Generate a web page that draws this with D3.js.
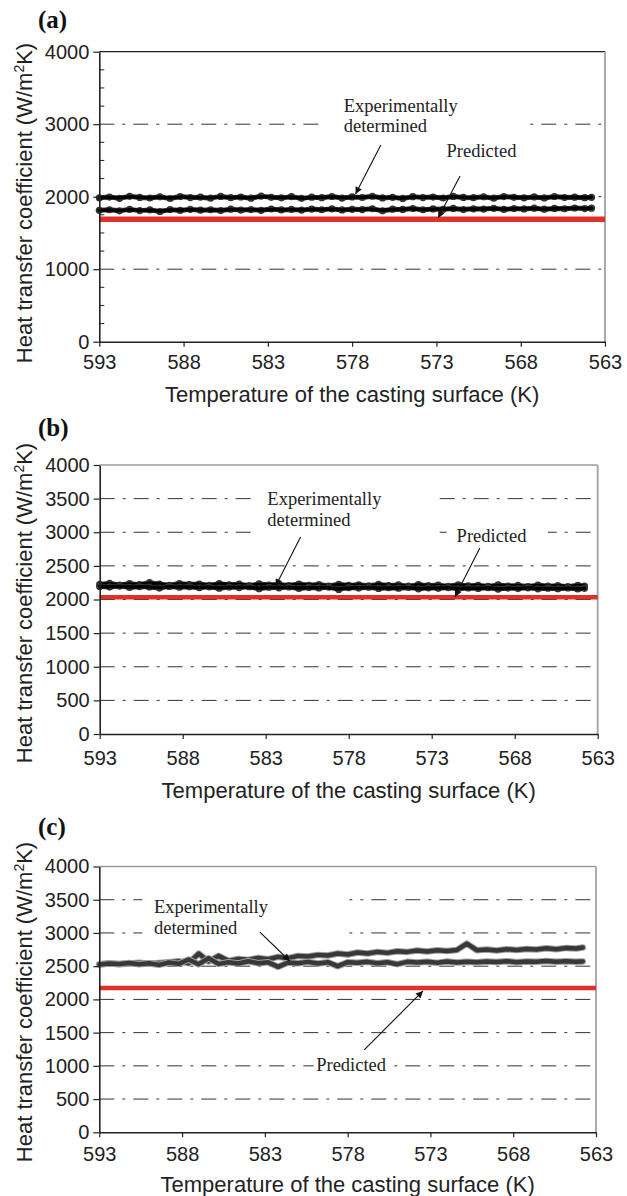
<!DOCTYPE html>
<html>
<head>
<meta charset="utf-8">
<script src="https://cdn.jsdelivr.net/npm/d3@7"></script>
<style>
  html, body { margin: 0; padding: 0; background: #fff; }
  svg { display: block; }
</style>
</head>
<body>
<script>
// ---------------- DATA ----------------
const temps = [593.0, 592.4, 591.8, 591.2, 590.6, 590.0, 589.4, 588.8, 588.2, 587.6,
               587.0, 586.4, 585.8, 585.2, 584.6, 584.0, 583.4, 582.8, 582.2, 581.6,
               581.0, 580.4, 579.8, 579.2, 578.6, 578.0, 577.4, 576.8, 576.2, 575.6,
               575.0, 574.4, 573.8, 573.2, 572.6, 572.0, 571.4, 570.8, 570.2, 569.6,
               569.0, 568.4, 567.8, 567.2, 566.6, 566.0, 565.4, 564.8, 564.2, 563.8];

// (a) experimentally determined
const aExpUpper = [1985, 1995, 1978, 2005, 1990, 1982, 1998, 1975, 2002, 1988,
                   1993, 1980, 2004, 1986, 1996, 1979, 2008, 1991, 1984, 2000,
                   1977, 1994, 1987, 2003, 1981, 1997, 1989, 2006, 1983, 1992,
                   1976, 2001, 1988, 1995, 1982, 2004, 1990, 1986, 1999, 1980,
                   2002, 1991, 1985, 1997, 1983, 2003, 1989, 1994, 1987, 1992];
const aExpLower = [1812, 1820, 1805, 1825, 1808, 1818, 1796, 1822, 1811, 1826,
                   1814, 1820, 1809, 1828, 1816, 1823, 1812, 1830, 1818, 1825,
                   1815, 1829, 1820, 1832, 1817, 1826, 1822, 1834, 1805, 1828,
                   1824, 1836, 1820, 1831, 1826, 1838, 1823, 1833, 1829, 1840,
                   1825, 1836, 1831, 1842, 1828, 1838, 1834, 1844, 1836, 1842];
// (b) experimentally determined
const bExpUpper = [2225, 2240, 2215, 2235, 2220, 2250, 2228, 2212, 2238, 2222,
                   2230, 2210, 2236, 2218, 2228, 2205, 2232, 2215, 2225, 2208,
                   2230, 2212, 2222, 2200, 2226, 2210, 2218, 2204, 2224, 2208,
                   2216, 2198, 2220, 2205, 2214, 2196, 2218, 2202, 2212, 2194,
                   2216, 2200, 2210, 2192, 2214, 2198, 2206, 2190, 2212, 2200];
const bExpLower = [2195, 2185, 2200, 2180, 2192, 2186, 2170, 2195, 2182, 2190,
                   2175, 2188, 2168, 2186, 2178, 2190, 2160, 2182, 2174, 2186,
                   2165, 2180, 2172, 2184, 2150, 2178, 2170, 2182, 2164, 2176,
                   2168, 2180, 2158, 2174, 2166, 2178, 2160, 2172, 2164, 2176,
                   2155, 2170, 2162, 2174, 2158, 2168, 2160, 2172, 2156, 2166];
// (c) experimentally determined
const cExpUpper = [2530, 2545, 2528, 2540, 2552, 2535, 2548, 2560, 2575, 2545,
                   2690, 2570, 2655, 2580, 2610, 2595, 2625, 2605, 2640, 2620,
                   2655, 2645, 2670, 2660, 2690, 2675, 2705, 2690, 2715, 2700,
                   2725, 2715, 2735, 2720, 2740, 2730, 2745, 2840, 2740, 2750,
                   2735, 2755, 2745, 2760, 2750, 2770, 2755, 2775, 2765, 2780];
const cExpLower = [2525, 2540, 2532, 2548, 2530, 2545, 2520, 2555, 2535, 2600,
                   2530, 2620, 2535, 2560, 2540, 2575, 2545, 2560, 2490, 2555,
                   2545, 2565, 2540, 2560, 2500, 2560, 2550, 2565, 2545, 2560,
                   2530, 2565, 2555, 2568, 2550, 2570, 2555, 2565, 2560, 2572,
                   2562, 2575, 2560, 2570, 2565, 2578, 2568, 2575, 2565, 2572];

// predicted (constant) heat transfer coefficient for (a), (b), (c)
const predicted = [1690, 2035, 2172];

const xDomain = [593, 563];
const xTicks = [593, 588, 583, 578, 573, 568, 563];
const yTicksA = [0, 1000, 2000, 3000, 4000];
const yMinorA = [250, 500, 750, 1250, 1500, 1750, 2250, 2500, 2750, 3250, 3500, 3750];
const yTicksBC = [0, 500, 1000, 1500, 2000, 2500, 3000, 3500, 4000];
const gridA = [1000, 2000, 3000];
const gridBC = [500, 1000, 1500, 2000, 2500, 3000, 3500];

const panelLetters = ["(a)", "(b)", "(c)"];
const xTitle = "Temperature of the casting surface (K)";
const expLabel = ["Experimentally", "determined"];
const predLabel = "Predicted";

// ---------------- LAYOUT ----------------
const panels = [
  { letter: panelLetters[0], left: 99.3, right: 605, top: 51.7, bottom: 341.7,
    yTicks: yTicksA, yMinor: yMinorA, grid: gridA, pred: predicted[0],
    series: [aExpUpper, aExpLower], style: "black",
    topColor: "#222", tickPad: 8, xTitleY: 401.7, yTitleC: 203, letterY: 28,
    expText: [578.5, 3168], lineGap: 20, predText: [572.4, 2548],
    expArrow: [[576.3, 2713], [577.8, 2037]], predArrow: [[571.6, 2286], [572.9, 1706]],
    boxes: [[579.6, 567.6, 3375, 2465]], redW: 5.5 },
  { letter: panelLetters[1], left: 99.7, right: 597.7, top: 465, bottom: 734,
    yTicks: yTicksBC, yMinor: [], grid: gridBC, pred: predicted[1],
    series: [bExpUpper, bExpLower], style: "black",
    topColor: "#9a9a9a", tickPad: 12, xTitleY: 798.3, yTitleC: 603, letterY: 436,
    expText: [582.9, 3405], lineGap: 21, predText: [571.5, 2859],
    expArrow: [[580.9, 2929], [582.4, 2201]], predArrow: [[570.1, 2766], [571.6, 2037]],
    boxes: [[583.6, 572.7, 3658, 2885], [572.1, 566.0, 3152, 2706]], redW: 4.5 },
  { letter: panelLetters[2], left: 99.3, right: 596, top: 866.5, bottom: 1132.3,
    yTicks: yTicksBC, yMinor: [], grid: gridBC, pred: predicted[2],
    series: [cExpUpper, cExpLower], style: "grey",
    topColor: "#9a9a9a", tickPad: 10, xTitleY: 1192, yTitleC: 1002, letterY: 835,
    expText: [589.7, 3305], lineGap: 21, predText: [579.9, 922],
    expArrow: [[583.3, 3014], [581.5, 2578]], predArrow: [[577.0, 1239], [573.45, 2127]],
    boxes: [[590.4, 577.9, 3676, 2864], [580.05, 575.3, 1133, 833]], redW: 4.5 }
];

const SANS = "'Liberation Sans', Arial, Helvetica, sans-serif";
const SERIF = "'Liberation Serif', 'Times New Roman', Times, serif";

const svg = d3.select("body").append("svg")
  .attr("width", 627).attr("height", 1196);

const defs = svg.append("defs");
defs.append("marker")
  .attr("id", "arrow")
  .attr("viewBox", "0 0 10 10")
  .attr("refX", 10).attr("refY", 5)
  .attr("markerUnits", "userSpaceOnUse")
  .attr("markerWidth", 10).attr("markerHeight", 7)
  .attr("orient", "auto")
  .append("path").attr("d", "M0,0 L10,5 L0,10 z").attr("fill", "#111");

panels.forEach(p => {
  const x = d3.scaleLinear().domain(xDomain).range([p.left, p.right]);
  const y = d3.scaleLinear().domain([0, 4000]).range([p.bottom, p.top]);
  const g = svg.append("g");

  // gridlines
  g.selectAll("line.grid").data(p.grid).join("line")
    .attr("class", "grid")
    .attr("x1", p.left).attr("x2", p.right)
    .attr("y1", d => y(d)).attr("y2", d => y(d))
    .attr("stroke", "#333").attr("stroke-width", 1)
    .attr("stroke-dasharray", "15,8,3,8");

  // top & right borders
  g.append("line").attr("x1", p.left).attr("x2", p.right)
    .attr("y1", y(4000)).attr("y2", y(4000))
    .attr("stroke", p.topColor).attr("stroke-width", 1.3);
  g.append("line").attr("x1", p.right).attr("x2", p.right)
    .attr("y1", y(4000)).attr("y2", y(0))
    .attr("stroke", "#aaa").attr("stroke-width", 2);

  // white label boxes (hide gridlines behind annotations)
  p.boxes.forEach(b => {
    g.append("rect")
      .attr("x", x(b[0])).attr("width", x(b[1]) - x(b[0]))
      .attr("y", y(b[2])).attr("height", y(b[3]) - y(b[2]))
      .attr("fill", "#fff");
  });

  // predicted line
  g.append("line")
    .attr("x1", x(xDomain[0])).attr("x2", x(xDomain[1]))
    .attr("y1", y(p.pred)).attr("y2", y(p.pred))
    .attr("stroke", "#e0302a").attr("stroke-width", p.redW);

  // experimental series
  const raw = d3.line().x((d, i) => x(temps[i])).y(d => y(d));
  const smooth = d3.line().curve(d3.curveBasis).x((d, i) => x(temps[i])).y(d => y(d));
  p.series.forEach(s => {
    if (p.style === "black") {
      g.append("path").datum(s).attr("d", raw)
        .attr("fill", "none").attr("stroke", "#3a3a3a").attr("stroke-width", 5)
        .attr("stroke-linejoin", "round").attr("stroke-linecap", "round");
      g.selectAll(null).data(s).join("circle")
        .attr("cx", (d, i) => x(temps[i])).attr("cy", d => y(d))
        .attr("r", 3.6).attr("fill", "#333");
      g.append("path").datum(s).attr("d", smooth)
        .attr("fill", "none").attr("stroke", "#000").attr("stroke-width", 3.5)
        .attr("stroke-linecap", "round");
    } else {
      g.append("path").datum(s).attr("d", raw)
        .attr("fill", "none").attr("stroke", "#a0a0a0").attr("stroke-width", 6.5)
        .attr("stroke-linejoin", "round").attr("stroke-linecap", "round");
      g.append("path").datum(s).attr("d", raw)
        .attr("fill", "none").attr("stroke", "#383838").attr("stroke-width", 4.5)
        .attr("stroke-linejoin", "round").attr("stroke-linecap", "round");
    }
  });

  // axes
  const yAxis = d3.axisLeft(y).tickValues(p.yTicks).tickSize(6).tickSizeOuter(0)
    .tickPadding(4).tickFormat(d3.format("d"));
  const ya = g.append("g").attr("transform", `translate(${p.left},0)`).call(yAxis);
  const xAxis = d3.axisBottom(x).tickValues(xTicks).tickSize(5).tickSizeOuter(0)
    .tickPadding(p.tickPad).tickFormat(d3.format("d"));
  const xa = g.append("g").attr("transform", `translate(0,${p.bottom})`).call(xAxis);
  [ya, xa].forEach(a => {
    a.select(".domain").attr("stroke", "#222").attr("stroke-width", 1.6);
    a.selectAll(".tick line").attr("stroke", "#222").attr("stroke-width", 1.2);
    a.selectAll(".tick text").attr("fill", "#222")
      .style("font-family", SANS).style("font-size", "20px");
  });
  // minor inward ticks
  g.selectAll("line.minor").data(p.yMinor).join("line")
    .attr("x1", p.left).attr("x2", p.left + 5)
    .attr("y1", d => y(d)).attr("y2", d => y(d))
    .attr("stroke", "#222").attr("stroke-width", 1);

  // axis titles
  g.append("text")
    .attr("x", (p.left + p.right) / 2).attr("y", p.xTitleY)
    .attr("text-anchor", "middle").attr("fill", "#222")
    .style("font-family", SANS).style("font-size", "22px")
    .text(xTitle);
  const yt = g.append("text")
    .attr("transform", `translate(32,${p.yTitleC}) rotate(-90)`)
    .attr("text-anchor", "middle").attr("fill", "#222")
    .style("font-family", SANS).style("font-size", "22px");
  yt.append("tspan").text("Heat transfer coefficient (W/m");
  yt.append("tspan").attr("dy", -8).style("font-size", "14px").text("2");
  yt.append("tspan").attr("dy", 8).text("K)");

  // panel letter
  g.append("text").attr("x", 38).attr("y", p.letterY)
    .attr("fill", "#111")
    .style("font-family", SERIF).style("font-size", "25px").style("font-weight", "bold")
    .text(p.letter);

  // annotations
  const et = g.append("text")
    .attr("x", x(p.expText[0])).attr("y", y(p.expText[1]))
    .attr("fill", "#222")
    .style("font-family", SERIF).style("font-size", "18.5px");
  et.append("tspan").attr("x", x(p.expText[0])).text(expLabel[0]);
  et.append("tspan").attr("x", x(p.expText[0])).attr("dy", p.lineGap).text(expLabel[1]);
  g.append("text")
    .attr("x", x(p.predText[0])).attr("y", y(p.predText[1]))
    .attr("fill", "#222")
    .style("font-family", SERIF).style("font-size", "18.5px")
    .text(predLabel);

  [p.expArrow, p.predArrow].forEach(a => {
    g.append("line")
      .attr("x1", x(a[0][0])).attr("y1", y(a[0][1]))
      .attr("x2", x(a[1][0])).attr("y2", y(a[1][1]))
      .attr("stroke", "#111").attr("stroke-width", 1.1)
      .attr("marker-end", "url(#arrow)");
  });
});
</script>
</body>
</html>
